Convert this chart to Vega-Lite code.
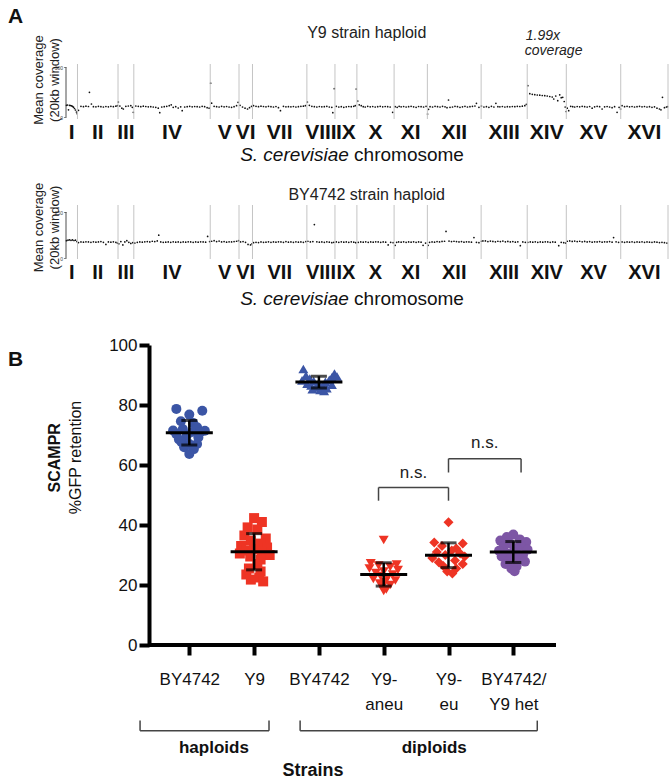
{
"$schema": "https://vega.github.io/schema/vega-lite/v6.json",
"padding": {"left": 7, "top": 5, "right": 0, "bottom": 0},
"bounds": "flush",
"spacing": 86,
"config": {"view": {"stroke": null}, "font": "Liberation Sans", "axis": {"grid": false}},
"datasets": {
"chroms": [
{"name":"I","start":0,"end":0.230,"mid":0.115},
{"name":"II","start":0.230,"end":1.043,"mid":0.637},
{"name":"III","start":1.043,"end":1.360,"mid":1.202},
{"name":"IV","start":1.360,"end":2.892,"mid":2.126},
{"name":"V","start":2.892,"end":3.469,"mid":3.181},
{"name":"VI","start":3.469,"end":3.739,"mid":3.604},
{"name":"VII","start":3.739,"end":4.830,"mid":4.285},
{"name":"VIII","start":4.830,"end":5.393,"mid":5.112},
{"name":"IX","start":5.393,"end":5.833,"mid":5.613},
{"name":"X","start":5.833,"end":6.579,"mid":6.206},
{"name":"XI","start":6.579,"end":7.246,"mid":6.913},
{"name":"XII","start":7.246,"end":8.324,"mid":7.785},
{"name":"XIII","start":8.324,"end":9.248,"mid":8.786},
{"name":"XIV","start":9.248,"end":10.032,"mid":9.640},
{"name":"XV","start":10.032,"end":11.123,"mid":10.578},
{"name":"XVI","start":11.123,"end":12.071,"mid":11.597}
],
"y9": [
{"p":0.01,"c":72},{"p":0.03,"c":74},{"p":0.05,"c":45},{"p":0.07,"c":72},{"p":0.09,"c":71},{"p":0.11,"c":69},{"p":0.13,"c":66},{"p":0.15,"c":61},{"p":0.17,"c":53},{"p":0.19,"c":44},{"p":0.21,"c":32},{"p":0.225,"c":22},
{"p":0.25,"c":42},{"p":0.30,"c":66},{"p":0.35,"c":64},{"p":0.40,"c":67},{"p":0.45,"c":65},{"p":0.47,"c":150},{"p":0.51,"c":80},{"p":0.55,"c":64},{"p":0.60,"c":63},{"p":0.65,"c":66},{"p":0.70,"c":64},{"p":0.75,"c":62},{"p":0.80,"c":65},{"p":0.85,"c":63},{"p":0.90,"c":66},{"p":0.95,"c":64},{"p":1.00,"c":67},{"p":1.03,"c":70},
{"p":1.05,"c":92},{"p":1.08,"c":68},{"p":1.12,"c":55},{"p":1.15,"c":50},{"p":1.20,"c":66},{"p":1.25,"c":68},{"p":1.30,"c":70},{"p":1.33,"c":60},{"p":1.35,"c":30},
{"p":1.40,"c":68},{"p":1.45,"c":66},{"p":1.50,"c":64},{"p":1.55,"c":67},{"p":1.60,"c":65},{"p":1.65,"c":63},{"p":1.70,"c":64},{"p":1.75,"c":62},{"p":1.80,"c":60},{"p":1.85,"c":55},{"p":1.88,"c":28},{"p":1.92,"c":62},{"p":1.97,"c":64},{"p":2.02,"c":66},{"p":2.07,"c":70},{"p":2.11,"c":75},{"p":2.15,"c":60},{"p":2.20,"c":64},{"p":2.25,"c":56},{"p":2.30,"c":63},{"p":2.33,"c":40},{"p":2.38,"c":62},{"p":2.43,"c":64},{"p":2.48,"c":66},{"p":2.53,"c":63},{"p":2.58,"c":65},{"p":2.63,"c":64},{"p":2.68,"c":62},{"p":2.73,"c":66},{"p":2.78,"c":64},{"p":2.83,"c":58},{"p":2.87,"c":55},
{"p":2.90,"c":205},{"p":2.92,"c":85},{"p":2.97,"c":66},{"p":3.02,"c":64},{"p":3.07,"c":62},{"p":3.12,"c":66},{"p":3.17,"c":63},{"p":3.22,"c":65},{"p":3.27,"c":62},{"p":3.32,"c":60},{"p":3.37,"c":64},{"p":3.42,"c":70},{"p":3.45,"c":90},
{"p":3.49,"c":72},{"p":3.54,"c":62},{"p":3.59,"c":55},{"p":3.64,"c":50},{"p":3.68,"c":58},{"p":3.72,"c":66},
{"p":3.76,"c":70},{"p":3.81,"c":66},{"p":3.86,"c":64},{"p":3.91,"c":67},{"p":3.96,"c":65},{"p":4.01,"c":63},{"p":4.06,"c":66},{"p":4.11,"c":64},{"p":4.16,"c":62},{"p":4.21,"c":65},{"p":4.26,"c":58},{"p":4.30,"c":40},{"p":4.36,"c":66},{"p":4.41,"c":63},{"p":4.46,"c":64},{"p":4.51,"c":63},{"p":4.56,"c":65},{"p":4.61,"c":62},{"p":4.66,"c":64},{"p":4.71,"c":66},{"p":4.76,"c":67},{"p":4.80,"c":70},
{"p":4.84,"c":92},{"p":4.88,"c":72},{"p":4.93,"c":66},{"p":4.98,"c":64},{"p":5.03,"c":62},{"p":5.08,"c":65},{"p":5.13,"c":63},{"p":5.18,"c":64},{"p":5.23,"c":66},{"p":5.28,"c":62},{"p":5.33,"c":60},{"p":5.35,"c":28},{"p":5.38,"c":172},
{"p":5.42,"c":66},{"p":5.47,"c":62},{"p":5.52,"c":64},{"p":5.57,"c":60},{"p":5.62,"c":63},{"p":5.67,"c":65},{"p":5.72,"c":64},{"p":5.77,"c":66},{"p":5.80,"c":70},{"p":5.82,"c":170},
{"p":5.85,"c":98},{"p":5.88,"c":75},{"p":5.92,"c":70},{"p":5.96,"c":64},{"p":6.00,"c":62},{"p":6.05,"c":66},{"p":6.10,"c":63},{"p":6.15,"c":65},{"p":6.20,"c":62},{"p":6.25,"c":64},{"p":6.30,"c":66},{"p":6.35,"c":63},{"p":6.40,"c":65},{"p":6.45,"c":64},{"p":6.50,"c":62},{"p":6.55,"c":30},
{"p":6.60,"c":64},{"p":6.64,"c":60},{"p":6.68,"c":66},{"p":6.72,"c":63},{"p":6.77,"c":65},{"p":6.82,"c":62},{"p":6.87,"c":64},{"p":6.92,"c":66},{"p":6.97,"c":63},{"p":7.02,"c":60},{"p":7.07,"c":65},{"p":7.12,"c":64},{"p":7.17,"c":62},{"p":7.22,"c":66},
{"p":7.25,"c":20},{"p":7.27,"c":48},{"p":7.30,"c":64},{"p":7.35,"c":62},{"p":7.40,"c":66},{"p":7.45,"c":64},{"p":7.50,"c":62},{"p":7.55,"c":66},{"p":7.60,"c":63},{"p":7.64,"c":58},{"p":7.67,"c":104},{"p":7.70,"c":60},{"p":7.75,"c":62},{"p":7.80,"c":66},{"p":7.85,"c":64},{"p":7.90,"c":60},{"p":7.95,"c":63},{"p":8.00,"c":66},{"p":8.05,"c":62},{"p":8.10,"c":64},{"p":8.15,"c":66},{"p":8.20,"c":68},{"p":8.23,"c":84},{"p":8.28,"c":60},
{"p":8.33,"c":68},{"p":8.38,"c":62},{"p":8.43,"c":64},{"p":8.48,"c":60},{"p":8.53,"c":66},{"p":8.58,"c":62},{"p":8.62,"c":84},{"p":8.66,"c":64},{"p":8.70,"c":63},{"p":8.75,"c":65},{"p":8.80,"c":62},{"p":8.85,"c":64},{"p":8.90,"c":63},{"p":8.95,"c":65},{"p":9.00,"c":64},{"p":9.05,"c":66},{"p":9.10,"c":65},{"p":9.15,"c":67},{"p":9.20,"c":70},{"p":9.23,"c":78},
{"p":9.26,"c":190},{"p":9.30,"c":142},{"p":9.35,"c":138},{"p":9.40,"c":136},{"p":9.45,"c":134},{"p":9.50,"c":133},{"p":9.55,"c":131},{"p":9.60,"c":130},{"p":9.65,"c":128},{"p":9.70,"c":125},{"p":9.75,"c":122},{"p":9.78,"c":110},{"p":9.82,"c":128},{"p":9.86,"c":100},{"p":9.90,"c":135},{"p":9.93,"c":118},{"p":9.96,"c":120},{"p":9.99,"c":95},{"p":10.01,"c":62},{"p":10.03,"c":35},
{"p":10.05,"c":55},{"p":10.08,"c":40},{"p":10.12,"c":66},{"p":10.16,"c":64},{"p":10.20,"c":62},{"p":10.25,"c":65},{"p":10.30,"c":63},{"p":10.35,"c":66},{"p":10.40,"c":64},{"p":10.45,"c":62},{"p":10.50,"c":65},{"p":10.55,"c":55},{"p":10.60,"c":63},{"p":10.65,"c":66},{"p":10.70,"c":64},{"p":10.75,"c":50},{"p":10.80,"c":63},{"p":10.85,"c":65},{"p":10.90,"c":62},{"p":10.95,"c":58},{"p":11.00,"c":64},{"p":11.05,"c":30},{"p":11.09,"c":60},{"p":11.12,"c":50},
{"p":11.15,"c":70},{"p":11.20,"c":64},{"p":11.25,"c":66},{"p":11.30,"c":63},{"p":11.35,"c":65},{"p":11.40,"c":62},{"p":11.45,"c":64},{"p":11.50,"c":66},{"p":11.55,"c":63},{"p":11.60,"c":65},{"p":11.65,"c":62},{"p":11.70,"c":64},{"p":11.75,"c":60},{"p":11.80,"c":63},{"p":11.85,"c":55},{"p":11.90,"c":50},{"p":11.93,"c":45},{"p":11.96,"c":120},{"p":12.00,"c":58},{"p":12.04,"c":62},{"p":12.06,"c":64}
],
"by": [
{"p":0.01,"c":95},{"p":0.04,"c":98},{"p":0.07,"c":100},{"p":0.10,"c":97},{"p":0.13,"c":99},{"p":0.16,"c":96},{"p":0.19,"c":98},{"p":0.22,"c":90},
{"p":0.25,"c":85},{"p":0.30,"c":88},{"p":0.35,"c":87},{"p":0.40,"c":89},{"p":0.45,"c":88},{"p":0.50,"c":86},{"p":0.55,"c":89},{"p":0.60,"c":87},{"p":0.65,"c":88},{"p":0.70,"c":90},{"p":0.75,"c":86},{"p":0.80,"c":75},{"p":0.85,"c":88},{"p":0.90,"c":87},{"p":0.95,"c":89},{"p":1.00,"c":86},{"p":1.03,"c":82},
{"p":1.06,"c":78},{"p":1.10,"c":90},{"p":1.14,"c":72},{"p":1.18,"c":88},{"p":1.22,"c":95},{"p":1.26,"c":86},{"p":1.30,"c":80},{"p":1.34,"c":84},
{"p":1.38,"c":82},{"p":1.43,"c":86},{"p":1.48,"c":88},{"p":1.53,"c":87},{"p":1.58,"c":89},{"p":1.63,"c":90},{"p":1.68,"c":88},{"p":1.73,"c":92},{"p":1.78,"c":90},{"p":1.83,"c":94},{"p":1.86,"c":125},{"p":1.90,"c":88},{"p":1.95,"c":86},{"p":2.00,"c":87},{"p":2.05,"c":88},{"p":2.10,"c":86},{"p":2.15,"c":89},{"p":2.20,"c":87},{"p":2.25,"c":88},{"p":2.30,"c":86},{"p":2.35,"c":88},{"p":2.40,"c":87},{"p":2.45,"c":89},{"p":2.50,"c":88},{"p":2.55,"c":86},{"p":2.60,"c":88},{"p":2.65,"c":87},{"p":2.70,"c":89},{"p":2.75,"c":88},{"p":2.80,"c":87},{"p":2.84,"c":118},{"p":2.88,"c":90},
{"p":2.92,"c":92},{"p":2.97,"c":95},{"p":3.02,"c":90},{"p":3.07,"c":93},{"p":3.12,"c":88},{"p":3.17,"c":90},{"p":3.22,"c":87},{"p":3.27,"c":89},{"p":3.32,"c":88},{"p":3.37,"c":90},{"p":3.42,"c":92},{"p":3.46,"c":95},
{"p":3.50,"c":88},{"p":3.55,"c":90},{"p":3.60,"c":86},{"p":3.65,"c":75},{"p":3.70,"c":72},{"p":3.73,"c":78},
{"p":3.76,"c":84},{"p":3.81,"c":86},{"p":3.86,"c":85},{"p":3.91,"c":88},{"p":3.96,"c":86},{"p":4.01,"c":87},{"p":4.06,"c":89},{"p":4.11,"c":86},{"p":4.16,"c":88},{"p":4.21,"c":87},{"p":4.26,"c":89},{"p":4.31,"c":88},{"p":4.36,"c":86},{"p":4.41,"c":90},{"p":4.46,"c":87},{"p":4.51,"c":88},{"p":4.56,"c":86},{"p":4.61,"c":89},{"p":4.66,"c":87},{"p":4.71,"c":88},{"p":4.76,"c":86},{"p":4.81,"c":90},
{"p":4.85,"c":92},{"p":4.90,"c":88},{"p":4.95,"c":90},{"p":4.98,"c":182},{"p":5.03,"c":89},{"p":5.08,"c":87},{"p":5.13,"c":88},{"p":5.18,"c":86},{"p":5.23,"c":89},{"p":5.28,"c":87},{"p":5.33,"c":84},{"p":5.37,"c":86},
{"p":5.42,"c":88},{"p":5.47,"c":86},{"p":5.52,"c":89},{"p":5.57,"c":87},{"p":5.62,"c":88},{"p":5.67,"c":86},{"p":5.72,"c":89},{"p":5.77,"c":87},{"p":5.81,"c":84},
{"p":5.86,"c":86},{"p":5.91,"c":88},{"p":5.96,"c":87},{"p":6.01,"c":89},{"p":6.06,"c":86},{"p":6.11,"c":88},{"p":6.16,"c":87},{"p":6.21,"c":89},{"p":6.26,"c":88},{"p":6.31,"c":86},{"p":6.36,"c":88},{"p":6.41,"c":87},{"p":6.46,"c":72},{"p":6.51,"c":86},{"p":6.56,"c":84},
{"p":6.60,"c":70},{"p":6.63,"c":86},{"p":6.67,"c":88},{"p":6.72,"c":87},{"p":6.77,"c":89},{"p":6.82,"c":86},{"p":6.87,"c":88},{"p":6.92,"c":87},{"p":6.97,"c":89},{"p":7.02,"c":86},{"p":7.07,"c":88},{"p":7.12,"c":87},{"p":7.16,"c":70},{"p":7.21,"c":82},
{"p":7.26,"c":70},{"p":7.29,"c":86},{"p":7.34,"c":88},{"p":7.39,"c":87},{"p":7.44,"c":90},{"p":7.49,"c":88},{"p":7.54,"c":91},{"p":7.59,"c":92},{"p":7.62,"c":145},{"p":7.68,"c":93},{"p":7.73,"c":90},{"p":7.78,"c":92},{"p":7.83,"c":90},{"p":7.88,"c":88},{"p":7.93,"c":90},{"p":7.98,"c":87},{"p":8.03,"c":89},{"p":8.08,"c":88},{"p":8.13,"c":87},{"p":8.18,"c":112},{"p":8.23,"c":86},{"p":8.28,"c":84},
{"p":8.33,"c":92},{"p":8.36,"c":94},{"p":8.41,"c":94},{"p":8.46,"c":90},{"p":8.51,"c":93},{"p":8.56,"c":91},{"p":8.61,"c":89},{"p":8.66,"c":92},{"p":8.71,"c":90},{"p":8.76,"c":93},{"p":8.81,"c":89},{"p":8.86,"c":91},{"p":8.91,"c":88},{"p":8.96,"c":90},{"p":9.01,"c":87},{"p":9.06,"c":89},{"p":9.11,"c":68},{"p":9.16,"c":88},{"p":9.21,"c":86},
{"p":9.26,"c":86},{"p":9.31,"c":88},{"p":9.36,"c":87},{"p":9.41,"c":89},{"p":9.46,"c":86},{"p":9.51,"c":88},{"p":9.56,"c":87},{"p":9.61,"c":89},{"p":9.66,"c":88},{"p":9.71,"c":86},{"p":9.76,"c":88},{"p":9.81,"c":87},{"p":9.88,"c":68},{"p":9.93,"c":86},{"p":9.98,"c":84},{"p":10.02,"c":82},
{"p":10.05,"c":92},{"p":10.10,"c":94},{"p":10.15,"c":91},{"p":10.20,"c":93},{"p":10.25,"c":90},{"p":10.30,"c":92},{"p":10.35,"c":89},{"p":10.40,"c":91},{"p":10.45,"c":88},{"p":10.50,"c":90},{"p":10.55,"c":87},{"p":10.60,"c":89},{"p":10.65,"c":88},{"p":10.70,"c":90},{"p":10.75,"c":87},{"p":10.80,"c":89},{"p":10.85,"c":88},{"p":10.90,"c":90},{"p":10.95,"c":87},{"p":10.98,"c":112},{"p":11.03,"c":89},{"p":11.08,"c":86},
{"p":11.15,"c":88},{"p":11.20,"c":86},{"p":11.25,"c":88},{"p":11.30,"c":87},{"p":11.35,"c":89},{"p":11.40,"c":86},{"p":11.45,"c":88},{"p":11.50,"c":87},{"p":11.55,"c":89},{"p":11.60,"c":86},{"p":11.65,"c":88},{"p":11.70,"c":87},{"p":11.75,"c":86},{"p":11.80,"c":88},{"p":11.85,"c":87},{"p":11.90,"c":85},{"p":11.95,"c":86},{"p":12.00,"c":84},{"p":12.05,"c":82}
],
"pts": [
{"grp":"hapBY","g":0,"x":-0.20,"v":78.7},{"grp":"hapBY","g":0,"x":0.20,"v":78.1},{"grp":"hapBY","g":0,"x":0.00,"v":76.8},{"grp":"hapBY","g":0,"x":-0.13,"v":74.6},{"grp":"hapBY","g":0,"x":0.06,"v":74.0},{"grp":"hapBY","g":0,"x":0.12,"v":72.6},{"grp":"hapBY","g":0,"x":-0.10,"v":72.0},{"grp":"hapBY","g":0,"x":-0.25,"v":71.5},{"grp":"hapBY","g":0,"x":0.24,"v":71.4},{"grp":"hapBY","g":0,"x":0.04,"v":71.0},{"grp":"hapBY","g":0,"x":0.17,"v":70.9},{"grp":"hapBY","g":0,"x":-0.20,"v":70.3},{"grp":"hapBY","g":0,"x":-0.04,"v":69.8},{"grp":"hapBY","g":0,"x":0.14,"v":69.2},{"grp":"hapBY","g":0,"x":-0.16,"v":68.5},{"grp":"hapBY","g":0,"x":-0.12,"v":67.6},{"grp":"hapBY","g":0,"x":0.12,"v":67.0},{"grp":"hapBY","g":0,"x":0.00,"v":67.0},{"grp":"hapBY","g":0,"x":-0.08,"v":65.9},{"grp":"hapBY","g":0,"x":0.07,"v":65.3},{"grp":"hapBY","g":0,"x":0.00,"v":63.7},
{"grp":"hapY9","g":1,"x":1.00,"v":42.3},{"grp":"hapY9","g":1,"x":1.12,"v":41.0},{"grp":"hapY9","g":1,"x":0.90,"v":39.2},{"grp":"hapY9","g":1,"x":1.05,"v":38.5},{"grp":"hapY9","g":1,"x":0.85,"v":36.5},{"grp":"hapY9","g":1,"x":1.18,"v":35.5},{"grp":"hapY9","g":1,"x":0.95,"v":34.8},{"grp":"hapY9","g":1,"x":1.10,"v":33.8},{"grp":"hapY9","g":1,"x":0.80,"v":33.0},{"grp":"hapY9","g":1,"x":1.20,"v":32.5},{"grp":"hapY9","g":1,"x":1.00,"v":32.0},{"grp":"hapY9","g":1,"x":0.88,"v":31.5},{"grp":"hapY9","g":1,"x":1.12,"v":31.0},{"grp":"hapY9","g":1,"x":0.78,"v":30.5},{"grp":"hapY9","g":1,"x":1.24,"v":30.0},{"grp":"hapY9","g":1,"x":0.94,"v":29.5},{"grp":"hapY9","g":1,"x":1.10,"v":28.5},{"grp":"hapY9","g":1,"x":1.05,"v":27.0},{"grp":"hapY9","g":1,"x":0.92,"v":25.5},{"grp":"hapY9","g":1,"x":1.10,"v":24.5},{"grp":"hapY9","g":1,"x":0.88,"v":23.5},{"grp":"hapY9","g":1,"x":1.08,"v":22.5},{"grp":"hapY9","g":1,"x":0.95,"v":21.8},{"grp":"hapY9","g":1,"x":1.14,"v":21.2},
{"grp":"dipBY","g":2,"x":1.76,"v":92.0},{"grp":"dipBY","g":2,"x":2.24,"v":90.5},{"grp":"dipBY","g":2,"x":1.80,"v":89.8},{"grp":"dipBY","g":2,"x":2.20,"v":89.2},{"grp":"dipBY","g":2,"x":1.86,"v":88.8},{"grp":"dipBY","g":2,"x":2.16,"v":88.4},{"grp":"dipBY","g":2,"x":1.92,"v":88.0},{"grp":"dipBY","g":2,"x":2.10,"v":87.7},{"grp":"dipBY","g":2,"x":2.00,"v":87.4},{"grp":"dipBY","g":2,"x":1.82,"v":87.1},{"grp":"dipBY","g":2,"x":2.20,"v":86.8},{"grp":"dipBY","g":2,"x":1.88,"v":86.5},{"grp":"dipBY","g":2,"x":2.06,"v":86.2},{"grp":"dipBY","g":2,"x":1.95,"v":85.9},{"grp":"dipBY","g":2,"x":2.12,"v":85.6},{"grp":"dipBY","g":2,"x":1.90,"v":85.3},{"grp":"dipBY","g":2,"x":2.02,"v":85.0},{"grp":"dipBY","g":2,"x":2.08,"v":84.7},{"grp":"dipBY","g":2,"x":2.28,"v":89.5},{"grp":"dipBY","g":2,"x":1.74,"v":88.2},
{"grp":"aneu","g":3,"x":3.00,"v":35.0},{"grp":"aneu","g":3,"x":2.80,"v":27.2},{"grp":"aneu","g":3,"x":3.20,"v":26.8},{"grp":"aneu","g":3,"x":2.92,"v":26.5},{"grp":"aneu","g":3,"x":3.10,"v":26.0},{"grp":"aneu","g":3,"x":2.78,"v":25.5},{"grp":"aneu","g":3,"x":3.22,"v":25.0},{"grp":"aneu","g":3,"x":3.00,"v":24.5},{"grp":"aneu","g":3,"x":2.88,"v":24.0},{"grp":"aneu","g":3,"x":3.14,"v":23.5},{"grp":"aneu","g":3,"x":2.95,"v":23.0},{"grp":"aneu","g":3,"x":3.06,"v":22.5},{"grp":"aneu","g":3,"x":2.84,"v":22.0},{"grp":"aneu","g":3,"x":3.18,"v":21.5},{"grp":"aneu","g":3,"x":3.02,"v":21.0},{"grp":"aneu","g":3,"x":2.94,"v":20.5},{"grp":"aneu","g":3,"x":3.10,"v":20.0},{"grp":"aneu","g":3,"x":2.98,"v":19.5},{"grp":"aneu","g":3,"x":3.04,"v":18.5},{"grp":"aneu","g":3,"x":3.00,"v":18.0},
{"grp":"eu","g":4,"x":4.00,"v":40.9},{"grp":"eu","g":4,"x":3.78,"v":34.2},{"grp":"eu","g":4,"x":4.22,"v":33.8},{"grp":"eu","g":4,"x":3.90,"v":33.0},{"grp":"eu","g":4,"x":4.12,"v":32.2},{"grp":"eu","g":4,"x":4.05,"v":31.5},{"grp":"eu","g":4,"x":3.82,"v":31.0},{"grp":"eu","g":4,"x":4.18,"v":30.5},{"grp":"eu","g":4,"x":3.95,"v":30.0},{"grp":"eu","g":4,"x":4.25,"v":29.5},{"grp":"eu","g":4,"x":3.75,"v":29.0},{"grp":"eu","g":4,"x":4.10,"v":28.2},{"grp":"eu","g":4,"x":3.85,"v":27.6},{"grp":"eu","g":4,"x":4.22,"v":27.0},{"grp":"eu","g":4,"x":3.92,"v":26.3},{"grp":"eu","g":4,"x":4.12,"v":25.5},{"grp":"eu","g":4,"x":3.98,"v":24.5},{"grp":"eu","g":4,"x":4.06,"v":23.8},
{"grp":"het","g":5,"x":5.00,"v":36.8},{"grp":"het","g":5,"x":4.90,"v":36.0},{"grp":"het","g":5,"x":5.10,"v":35.2},{"grp":"het","g":5,"x":4.80,"v":34.8},{"grp":"het","g":5,"x":5.20,"v":34.3},{"grp":"het","g":5,"x":4.95,"v":33.8},{"grp":"het","g":5,"x":5.12,"v":33.2},{"grp":"het","g":5,"x":4.85,"v":32.8},{"grp":"het","g":5,"x":5.05,"v":32.3},{"grp":"het","g":5,"x":5.22,"v":31.8},{"grp":"het","g":5,"x":4.78,"v":31.4},{"grp":"het","g":5,"x":5.00,"v":31.0},{"grp":"het","g":5,"x":4.90,"v":30.5},{"grp":"het","g":5,"x":5.15,"v":30.0},{"grp":"het","g":5,"x":4.82,"v":29.5},{"grp":"het","g":5,"x":5.08,"v":29.0},{"grp":"het","g":5,"x":4.94,"v":28.4},{"grp":"het","g":5,"x":5.18,"v":27.8},{"grp":"het","g":5,"x":4.88,"v":27.0},{"grp":"het","g":5,"x":5.05,"v":26.2},{"grp":"het","g":5,"x":4.97,"v":25.5},{"grp":"het","g":5,"x":5.02,"v":24.6}
],
"brk": [
{"k":"ns","a":2.92,"b":4.0,"bar":52.5,"leg":48.1,"lx":3.46,"ly":57.5,"t":"n.s."},
{"k":"ns","a":4.0,"b":5.12,"bar":62.1,"leg":57.5,"lx":4.56,"ly":67.5,"t":"n.s."},
{"k":"grp","a":-0.76,"b":1.23,"bar":-28.6,"leg":-25.2,"lx":0.38,"ly":-34.2,"t":"haploids"},
{"k":"grp","a":1.71,"b":5.37,"bar":-28.6,"leg":-25.2,"lx":3.78,"ly":-34.2,"t":"diploids"}
]
},
"vconcat": [
{
"width": 602, "height": 55,
"layer": [
{"data": {"name": "y9"}, "mark": {"type": "circle", "size": 3, "color": "#111", "opacity": 1},
 "encoding": {"x": {"field": "p", "type": "quantitative", "scale": {"domain": [0, 12.071], "nice": false, "zero": false}, "axis": null},
  "y": {"field": "c", "type": "quantitative", "scale": {"domain": [-10, 320], "nice": false, "zero": false},
   "axis": {"values": [0, 50, 100, 150, 200, 250, 300], "domain": false, "tickSize": 2.5, "tickWidth": 0.6, "tickColor": "#333", "labelFontSize": 5, "labelColor": "#444", "labelPadding": 1,
    "title": ["Mean coverage", "(20kb window)"], "titleFontSize": 13, "titleFontWeight": "normal", "titleColor": "#222", "titleAngle": 270, "titleAlign": "center", "titleBaseline": "bottom", "titleX": -21, "titleY": 15.5, "titleLineHeight": 16}}}},
{"data": {"name": "chroms"}, "mark": {"type": "rule", "color": "#c4c4c4", "strokeWidth": 1},
 "encoding": {"x": {"field": "end", "type": "quantitative", "axis": null}}},
{"data": {"values": [{}]}, "mark": {"type": "rule", "color": "#222", "strokeWidth": 0.8},
 "encoding": {"x": {"datum": 0, "type": "quantitative", "axis": null}, "y": {"datum": 0, "type": "quantitative"}, "y2": {"datum": 300}}},
{"data": {"name": "chroms"}, "mark": {"type": "text", "fontWeight": "bold", "fontSize": 21, "color": "#111", "baseline": "middle"},
 "encoding": {"x": {"field": "mid", "type": "quantitative", "axis": null}, "y": {"datum": -91, "type": "quantitative"}, "text": {"field": "name"}}},
{"data": {"values": [{}]}, "mark": {"type": "text", "text": "S. cerevisiae", "fontStyle": "italic", "fontSize": 19, "align": "right", "baseline": "alphabetic", "dx": -2.6, "color": "#111"},
 "encoding": {"x": {"datum": 5.725, "type": "quantitative", "axis": null}, "y": {"datum": -262, "type": "quantitative"}}},
{"data": {"values": [{}]}, "mark": {"type": "text", "text": "chromosome", "fontSize": 19, "align": "left", "baseline": "alphabetic", "dx": 2.6, "color": "#111"},
 "encoding": {"x": {"datum": 5.725, "type": "quantitative", "axis": null}, "y": {"datum": -262, "type": "quantitative"}}},
{"data": {"values": [{}]}, "mark": {"type": "text", "text": "Y9 strain haploid", "fontSize": 16, "align": "center", "baseline": "middle", "color": "#222"},
 "encoding": {"x": {"datum": 6.03, "type": "quantitative", "axis": null}, "y": {"datum": 506, "type": "quantitative"}}},
{"data": {"values": [{}]}, "mark": {"type": "text", "text": "1.99x", "fontSize": 14, "fontStyle": "italic", "align": "left", "baseline": "alphabetic", "color": "#222"},
 "encoding": {"x": {"datum": 9.22, "type": "quantitative", "axis": null}, "y": {"datum": 464, "type": "quantitative"}}},
{"data": {"values": [{}]}, "mark": {"type": "text", "text": "coverage", "fontSize": 14, "fontStyle": "italic", "align": "left", "baseline": "alphabetic", "color": "#222"},
 "encoding": {"x": {"datum": 9.20, "type": "quantitative", "axis": null}, "y": {"datum": 374, "type": "quantitative"}}},
{"data": {"values": [{}]}, "mark": {"type": "text", "text": "A", "fontSize": 21, "fontWeight": "bold", "align": "left", "baseline": "top", "color": "#111"},
 "encoding": {"x": {"datum": -1.163, "type": "quantitative", "axis": null}, "y": {"datum": 671, "type": "quantitative"}}}
]
},
{
"width": 602, "height": 54,
"layer": [
{"data": {"name": "by"}, "mark": {"type": "circle", "size": 3, "color": "#111", "opacity": 1},
 "encoding": {"x": {"field": "p", "type": "quantitative", "scale": {"domain": [0, 12.071], "nice": false, "zero": false}, "axis": null},
  "y": {"field": "c", "type": "quantitative", "scale": {"domain": [-4, 288], "nice": false, "zero": false},
   "axis": {"values": [0, 50, 100, 150, 200, 250], "domain": false, "tickSize": 2.5, "tickWidth": 0.6, "tickColor": "#333", "labelFontSize": 5, "labelColor": "#444", "labelPadding": 1,
    "title": ["Mean coverage", "(20kb window)"], "titleFontSize": 13, "titleFontWeight": "normal", "titleColor": "#222", "titleAngle": 270, "titleAlign": "center", "titleBaseline": "bottom", "titleX": -21, "titleY": 22, "titleLineHeight": 16}}}},
{"data": {"name": "chroms"}, "mark": {"type": "rule", "color": "#c4c4c4", "strokeWidth": 1},
 "encoding": {"x": {"field": "end", "type": "quantitative", "axis": null}}},
{"data": {"values": [{}]}, "mark": {"type": "rule", "color": "#222", "strokeWidth": 0.8},
 "encoding": {"x": {"datum": 0, "type": "quantitative", "axis": null}, "y": {"datum": 0, "type": "quantitative"}, "y2": {"datum": 250}}},
{"data": {"name": "chroms"}, "mark": {"type": "text", "fontWeight": "bold", "fontSize": 20, "color": "#111", "baseline": "middle"},
 "encoding": {"x": {"field": "mid", "type": "quantitative", "axis": null}, "y": {"datum": -77, "type": "quantitative"}, "text": {"field": "name"}}},
{"data": {"values": [{}]}, "mark": {"type": "text", "text": "S. cerevisiae", "fontStyle": "italic", "fontSize": 19, "align": "right", "baseline": "alphabetic", "dx": -2.6, "color": "#111"},
 "encoding": {"x": {"datum": 5.725, "type": "quantitative", "axis": null}, "y": {"datum": -252.7, "type": "quantitative"}}},
{"data": {"values": [{}]}, "mark": {"type": "text", "text": "chromosome", "fontSize": 19, "align": "left", "baseline": "alphabetic", "dx": 2.6, "color": "#111"},
 "encoding": {"x": {"datum": 5.725, "type": "quantitative", "axis": null}, "y": {"datum": -252.7, "type": "quantitative"}}},
{"data": {"values": [{}]}, "mark": {"type": "text", "text": "BY4742 strain haploid", "fontSize": 16, "align": "center", "baseline": "middle", "color": "#222"},
 "encoding": {"x": {"datum": 6.03, "type": "quantitative", "axis": null}, "y": {"datum": 342, "type": "quantitative"}}}
]
},
{
"width": 490, "height": 300,
"layer": [
{"data": {"name": "pts"}, "mark": {"type": "point", "filled": true, "opacity": 1},
 "encoding": {
  "x": {"field": "x", "type": "quantitative", "scale": {"domain": [-1.903, 5.659], "nice": false, "zero": false},
   "axis": {"values": [0, 1, 2, 3, 4, 5], "domain": false, "labelExpr": "[['BY4742'],['Y9'],['BY4742'],['Y9-','aneu'],['Y9-','eu'],['BY4742/','Y9 het']][datum.value]",
    "tickWidth": 4, "tickSize": 10, "tickColor": "black", "labelFontSize": 17, "labelColor": "#111", "labelPadding": 16, "labelLineHeight": 25, "labelFlush": false, "labelOverlap": false, "title": null}},
  "y": {"field": "v", "type": "quantitative", "scale": {"domain": [0, 100], "nice": false, "zero": false},
   "axis": {"values": [0, 20, 40, 60, 80, 100], "offset": -83, "domainWidth": 4, "domainColor": "black", "tickWidth": 4, "tickSize": 10, "tickColor": "black", "labelFontSize": 17, "labelColor": "#111", "labelPadding": 2,
    "title": "%GFP retention", "titleFontSize": 16, "titleFontWeight": "normal", "titleColor": "#111", "titleAngle": 270, "titleBaseline": "bottom", "titleAlign": "center", "titleX": -66, "titleY": 112}},
  "shape": {"field": "grp", "type": "nominal", "scale": {"domain": ["hapBY", "hapY9", "dipBY", "aneu", "eu", "het"], "range": ["circle", "square", "triangle-up", "triangle-down", "diamond", "circle"]}, "legend": null},
  "color": {"field": "grp", "type": "nominal", "scale": {"domain": ["hapBY", "hapY9", "dipBY", "aneu", "eu", "het"], "range": ["#3B55A5", "#EE3424", "#3B55A5", "#EE3424", "#EE3424", "#7D56A5"]}, "legend": null},
  "size": {"field": "grp", "type": "nominal", "scale": {"domain": ["hapBY", "hapY9", "dipBY", "aneu", "eu", "het"], "range": [100, 100, 130, 130, 120, 100]}, "legend": null}
 }},
{"data": {"name": "brk"}, "mark": {"type": "rule", "color": "#444", "strokeWidth": 1.5},
 "encoding": {"x": {"field": "a", "type": "quantitative"}, "x2": {"field": "b"}, "y": {"field": "bar", "type": "quantitative"}}},
{"data": {"name": "brk"}, "mark": {"type": "rule", "color": "#444", "strokeWidth": 1.5},
 "encoding": {"x": {"field": "a", "type": "quantitative"}, "y": {"field": "bar", "type": "quantitative"}, "y2": {"field": "leg"}}},
{"data": {"name": "brk"}, "mark": {"type": "rule", "color": "#444", "strokeWidth": 1.5},
 "encoding": {"x": {"field": "b", "type": "quantitative"}, "y": {"field": "bar", "type": "quantitative"}, "y2": {"field": "leg"}}},
{"data": {"values": [{}]}, "mark": {"type": "rule", "color": "black", "strokeWidth": 4},
 "encoding": {"x": {"datum": -0.622, "type": "quantitative"}, "x2": {"datum": 5.659}, "y": {"datum": 0, "type": "quantitative"}}},
{"data": {"name": "pts"}, "mark": {"type": "errorbar", "extent": "stdev", "orient": "vertical", "ticks": {"size": 16, "thickness": 3, "color": "black"}, "rule": {"strokeWidth": 2.5, "color": "black"}},
 "encoding": {"x": {"field": "g", "type": "quantitative", "title": null}, "y": {"field": "v", "type": "quantitative", "title": "%GFP retention"}}},
{"data": {"name": "pts"}, "mark": {"type": "tick", "orient": "horizontal", "size": 47, "thickness": 3, "color": "black"},
 "encoding": {"x": {"field": "g", "type": "quantitative", "title": null}, "y": {"aggregate": "mean", "field": "v", "type": "quantitative", "title": "%GFP retention"}}},
{"data": {"name": "brk"}, "transform": [{"filter": "datum.k == 'ns'"}], "mark": {"type": "text", "fontSize": 17, "color": "#222", "baseline": "middle"},
 "encoding": {"x": {"field": "lx", "type": "quantitative"}, "y": {"field": "ly", "type": "quantitative"}, "text": {"field": "t"}}},
{"data": {"name": "brk"}, "transform": [{"filter": "datum.k == 'grp'"}], "mark": {"type": "text", "fontSize": 17, "fontWeight": "bold", "color": "#111", "baseline": "middle"},
 "encoding": {"x": {"field": "lx", "type": "quantitative"}, "y": {"field": "ly", "type": "quantitative"}, "text": {"field": "t"}}},
{"data": {"values": [{}]}, "mark": {"type": "text", "text": "Strains", "fontSize": 18, "fontWeight": "bold", "color": "#111", "baseline": "middle"},
 "encoding": {"x": {"datum": 1.91, "type": "quantitative"}, "y": {"datum": -41.9, "type": "quantitative"}}},
{"data": {"values": [{}]}, "mark": {"type": "text", "text": "SCAMPR", "fontSize": 16, "fontWeight": "bold", "color": "#111", "angle": 270, "align": "center", "baseline": "middle"},
 "encoding": {"x": {"datum": -2.07, "type": "quantitative"}, "y": {"datum": 62.4, "type": "quantitative"}}},
{"data": {"values": [{}]}, "mark": {"type": "text", "text": "B", "fontSize": 21, "fontWeight": "bold", "align": "left", "baseline": "top", "color": "#111"},
 "encoding": {"x": {"datum": -2.80, "type": "quantitative"}, "y": {"datum": 98.8, "type": "quantitative"}}}
]
}
]
}
